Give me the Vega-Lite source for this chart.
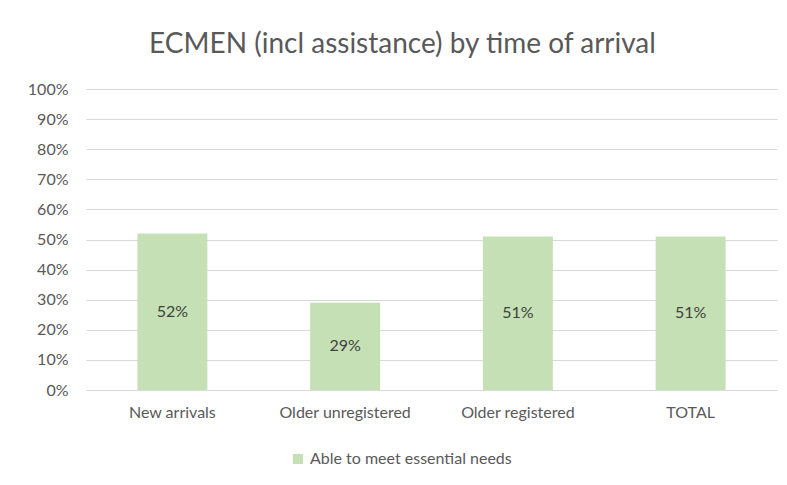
{
  "$schema": "https://vega.github.io/schema/vega-lite/v6.json",
  "width": 691,
  "height": 301,
  "autosize": {"type": "none"},
  "padding": {"left": 86, "top": 89, "right": 10, "bottom": 95},
  "background": "white",
  "title": {
    "text": "ECMEN (incl assistance) by time of arrival",
    "font": "Lato",
    "fontSize": 28,
    "fontWeight": "normal",
    "color": "#595959",
    "anchor": "middle",
    "dx": -29,
    "offset": 22
  },
  "data": {
    "values": [
      {"category": "New arrivals", "value": 0.52, "series": "Able to meet essential needs"},
      {"category": "Older unregistered", "value": 0.29, "series": "Able to meet essential needs"},
      {"category": "Older registered", "value": 0.51, "series": "Able to meet essential needs"},
      {"category": "TOTAL", "value": 0.51, "series": "Able to meet essential needs"}
    ]
  },
  "encoding": {
    "x": {
      "field": "category",
      "type": "nominal",
      "sort": null,
      "scale": {"paddingInner": 0.595, "paddingOuter": 0.2975},
      "axis": {
        "title": null,
        "labelAngle": 0,
        "labelFont": "Lato",
        "labelFontSize": 16,
        "labelColor": "#595959",
        "labelPadding": 14,
        "ticks": false,
        "domain": true,
        "domainColor": "#d9d9d9",
        "grid": false
      }
    }
  },
  "layer": [
    {
      "mark": {"type": "bar", "color": "#c5e0b4"},
      "encoding": {
        "y": {
          "field": "value",
          "type": "quantitative",
          "title": null,
          "scale": {"domain": [0, 1]},
          "axis": {
            "title": null,
            "format": ".0%",
            "values": [0, 0.1, 0.2, 0.3, 0.4, 0.5, 0.6, 0.7, 0.8, 0.9, 1],
            "labelOverlap": false,
            "labelFont": "Lato",
            "labelFontSize": 16,
            "labelColor": "#595959",
            "labelPadding": 18,
            "ticks": false,
            "domain": false,
            "grid": true,
            "gridColor": "#d9d9d9",
            "gridWidth": 1
          }
        },
        "fill": {
          "field": "series",
          "type": "nominal",
          "scale": {"range": ["#c5e0b4"]},
          "legend": {
            "title": null,
            "orient": "none",
            "legendX": 204,
            "legendY": 362,
            "symbolType": "square",
            "symbolSize": 100,
            "symbolStrokeWidth": 0,
            "labelFont": "Lato",
            "labelFontSize": 16,
            "labelColor": "#595959",
            "labelLimit": 0
          }
        }
      }
    },
    {
      "transform": [{"calculate": "datum.value / 2", "as": "mid"}],
      "mark": {"type": "text", "font": "Lato", "fontSize": 16, "color": "#404040", "baseline": "middle"},
      "encoding": {
        "y": {
          "field": "mid",
          "type": "quantitative",
          "title": null,
          "scale": {"domain": [0, 1]},
          "axis": {
            "title": null,
            "format": ".0%",
            "values": [0, 0.1, 0.2, 0.3, 0.4, 0.5, 0.6, 0.7, 0.8, 0.9, 1],
            "labelOverlap": false,
            "labelFont": "Lato",
            "labelFontSize": 16,
            "labelColor": "#595959",
            "labelPadding": 18,
            "ticks": false,
            "domain": false,
            "grid": true,
            "gridColor": "#d9d9d9",
            "gridWidth": 1
          }
        },
        "text": {"field": "value", "type": "quantitative", "format": ".0%"}
      }
    }
  ],
  "config": {"view": {"stroke": null}}
}
